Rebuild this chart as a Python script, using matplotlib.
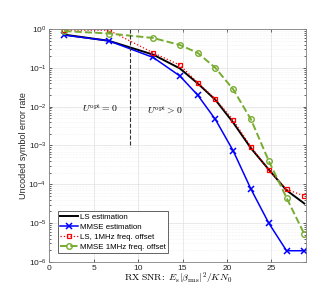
import numpy as np
import matplotlib
matplotlib.use('Agg')
import matplotlib.pyplot as plt
from matplotlib.ticker import LogLocator, NullFormatter

plt.rcParams['font.family'] = 'Liberation Sans'
plt.rcParams['mathtext.fontset'] = 'cm'

snr = [1.7, 6.7, 11.7, 14.7, 16.7, 18.7, 20.7, 22.7, 24.7, 26.7, 28.7]
ser_ls = [0.72, 0.5, 0.22, 0.097, 0.04, 0.015, 0.0039, 8.5e-4, 2.4e-4, 7e-5, 3.2e-5]
ser_mmse = [0.7, 0.5, 0.186, 0.062, 0.02, 0.0047, 7.3e-4, 7.5e-5, 1.0e-5, 1.94e-6, 1.94e-6]
ser_ls_off = [0.94, 0.94, 0.245, 0.118, 0.042, 0.0158, 0.0045, 9.3e-4, 2.3e-4, 7.4e-5, 5e-5]
ser_mmse_off = [0.89, 0.77, 0.59, 0.39, 0.245, 0.1, 0.028, 0.0047, 4e-4, 4.5e-5, 5.2e-6]

green = '#77AC30'

fig = plt.figure(figsize=(3.32, 2.91), dpi=100)
ax = fig.add_axes([0.148, 0.100, 0.774, 0.800])

ax.semilogy(snr, ser_ls, '-', color='k', lw=1.4, label='LS estimation')
ax.semilogy(snr, ser_mmse, '-x', color='b', lw=1.1, ms=4, mew=1.1, label='MMSE estimation')
ax.semilogy(snr, ser_ls_off, ':s', color='r', lw=0.9, ms=3.5, mew=0.9, mfc='none',
            label='LS, 1MHz freq. offset')
ax.semilogy(snr, ser_mmse_off, '--o', color=green, lw=1.4, ms=4, mew=1.0, mfc='none',
            label='MMSE 1MHz freq. offset')

ax.plot([9.1, 9.1], [1, 9e-4], '--', color='0.2', lw=0.8)
ax.text(5.7, 9e-3, r'$U^{\mathrm{opt}}=0$', ha='center', va='center', fontsize=7)
ax.text(13.0, 8e-3, r'$U^{\mathrm{opt}}>0$', ha='center', va='center', fontsize=7)

ax.set_xlim(0, 28.9)
ax.set_ylim(1e-6, 1)
ax.set_xticks([0, 5, 10, 15, 20, 25])
ax.yaxis.set_major_locator(LogLocator(base=10, numticks=10))
ax.yaxis.set_minor_locator(LogLocator(base=10, subs=np.arange(2, 10), numticks=10))
ax.yaxis.set_minor_formatter(NullFormatter())
ax.tick_params(which='both', direction='in', top=True, right=True, labelsize=6,
               colors='0.15', width=0.5, pad=2)
ax.tick_params(which='major', length=2.5)
ax.tick_params(which='minor', length=1.3)
ax.grid(True, which='major', color='0.88', lw=0.5)
ax.grid(True, which='minor', color='0.9', lw=0.4, ls=':')
for s in ax.spines.values():
    s.set_color('0.5')
    s.set_linewidth(0.6)

ax.set_ylabel('Uncoded symbol error rate', fontsize=6.5, color='0.15', labelpad=0)
ax.set_xlabel(r'$\mathrm{RX\ SNR\!:}\ E_{\mathrm{s}}|\beta_{\mathrm{rms}}|^2/KN_0$',
              fontsize=7, labelpad=-1)

leg = ax.legend(loc='lower left', fontsize=5.7, handlelength=2.2, handletextpad=0.3,
                borderpad=0.3, labelspacing=0.3, fancybox=False, framealpha=1,
                borderaxespad=1.1)
leg.get_frame().set_edgecolor('0.15')
leg.get_frame().set_linewidth(0.5)

fig.savefig('out.png', dpi=100)
